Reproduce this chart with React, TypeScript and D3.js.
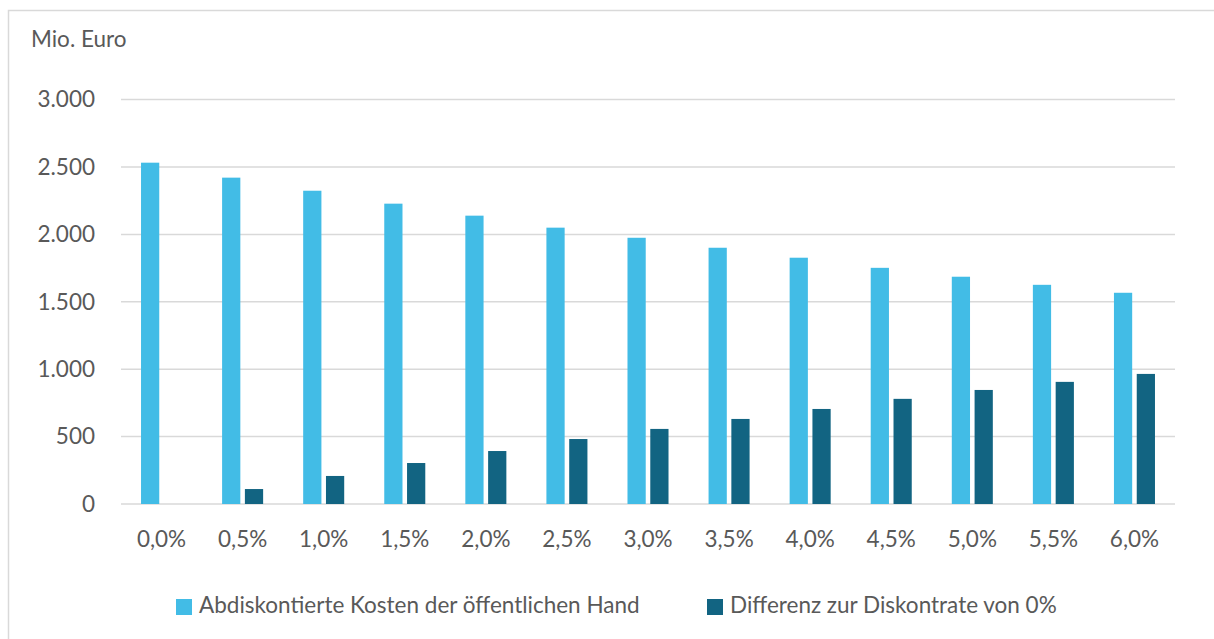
import React, { useEffect, useRef } from 'react';
import * as d3 from 'd3';

// discount rates (x categories)
const rates = ['0,0%', '0,5%', '1,0%', '1,5%', '2,0%', '2,5%', '3,0%', '3,5%', '4,0%', '4,5%', '5,0%', '5,5%', '6,0%'];
// discounted public costs, Mio. Euro
const kosten = [2532, 2421, 2324, 2228, 2139, 2050, 1975, 1901, 1827, 1752, 1686, 1626, 1567];
// difference to discount rate 0%
const differenz = [0, 111, 208, 304, 393, 482, 557, 631, 705, 780, 846, 906, 965];
const yTicks = [0, 500, 1000, 1500, 2000, 2500, 3000];
const seriesNames = ['Abdiskontierte Kosten der öffentlichen Hand', 'Differenz zur Diskontrate von 0%'];
const colors = ['#42bce6', '#126482'];

const App = () => {
  const svgRef = useRef<SVGSVGElement>(null);

  useEffect(() => {
    const width = 1214;
    const height = 639;
    const font = "Lato, 'Open Sans', sans-serif";
    const fontSize = 22.5;
    const textColor = '#595959';

    const svg = d3.select(svgRef.current)
      .attr('width', width)
      .attr('height', height);
    svg.selectAll('*').remove();

    // chart frame (only left and top edges are visible)
    svg.append('rect')
      .attr('x', 8.5)
      .attr('y', 10.5)
      .attr('width', width)
      .attr('height', height)
      .attr('fill', '#fff')
      .attr('stroke', '#d9d9d9')
      .attr('stroke-width', 1.5);

    const left = 121;
    const right = 1175;
    const top = 99.6;
    const bottom = 504;

    const x = d3.scaleBand().domain(rates).range([left, right]).paddingInner(0.494).paddingOuter(0.247);
    const x1 = d3.scaleBand().domain(['0', '1']).range([0, x.bandwidth()]).paddingInner(0.2);
    const y = d3.scaleLinear().domain([0, 3000]).range([bottom, top]);

    // gridlines
    svg.append('g')
      .selectAll('line')
      .data(yTicks)
      .enter()
      .append('line')
      .attr('x1', left)
      .attr('x2', right)
      .attr('y1', d => y(d))
      .attr('y2', d => y(d))
      .attr('stroke', '#d9d9d9')
      .attr('stroke-width', 1.5);

    // y tick labels
    const fmt = d3.formatLocale({ decimal: ',', thousands: '.', grouping: [3], currency: ['', '€'] }).format(',');
    svg.append('g')
      .selectAll('text')
      .data(yTicks)
      .enter()
      .append('text')
      .attr('x', 95)
      .attr('y', d => y(d))
      .attr('dy', '0.35em')
      .attr('text-anchor', 'end')
      .attr('font-family', font)
      .attr('font-size', fontSize)
      .attr('fill', textColor)
      .text(d => fmt(d));

    svg.append('text')
      .attr('x', 31)
      .attr('y', 47)
      .attr('font-family', font)
      .attr('font-size', fontSize)
      .attr('fill', textColor)
      .text('Mio. Euro');

    // bars
    const series = [kosten, differenz];
    series.forEach((values, si) => {
      svg.append('g')
        .selectAll('rect')
        .data(values)
        .enter()
        .append('rect')
        .attr('x', (_, i) => (x(rates[i]) as number) + (x1(String(si)) as number))
        .attr('y', d => y(d))
        .attr('width', x1.bandwidth())
        .attr('height', d => bottom - y(d))
        .attr('fill', colors[si]);
    });

    // x labels
    svg.append('g')
      .selectAll('text')
      .data(rates)
      .enter()
      .append('text')
      .attr('x', d => (x(d) as number) + x.bandwidth() / 2)
      .attr('y', 547)
      .attr('text-anchor', 'middle')
      .attr('font-family', font)
      .attr('font-size', fontSize)
      .attr('fill', textColor)
      .text(d => d);

    // legend
    const legendX = [176, 707];
    seriesNames.forEach((name, i) => {
      const g = svg.append('g').attr('transform', `translate(${legendX[i]}, 599)`);
      g.append('rect')
        .attr('width', 16)
        .attr('height', 16)
        .attr('fill', colors[i]);
      g.append('text')
        .attr('x', 23)
        .attr('y', 13.5)
        .attr('font-family', font)
        .attr('font-size', fontSize)
        .attr('fill', textColor)
        .text(name);
    });
  }, []);

  return <svg ref={svgRef} style={{ position: 'absolute', left: 0, top: 0 }}></svg>;
};

export default App;
